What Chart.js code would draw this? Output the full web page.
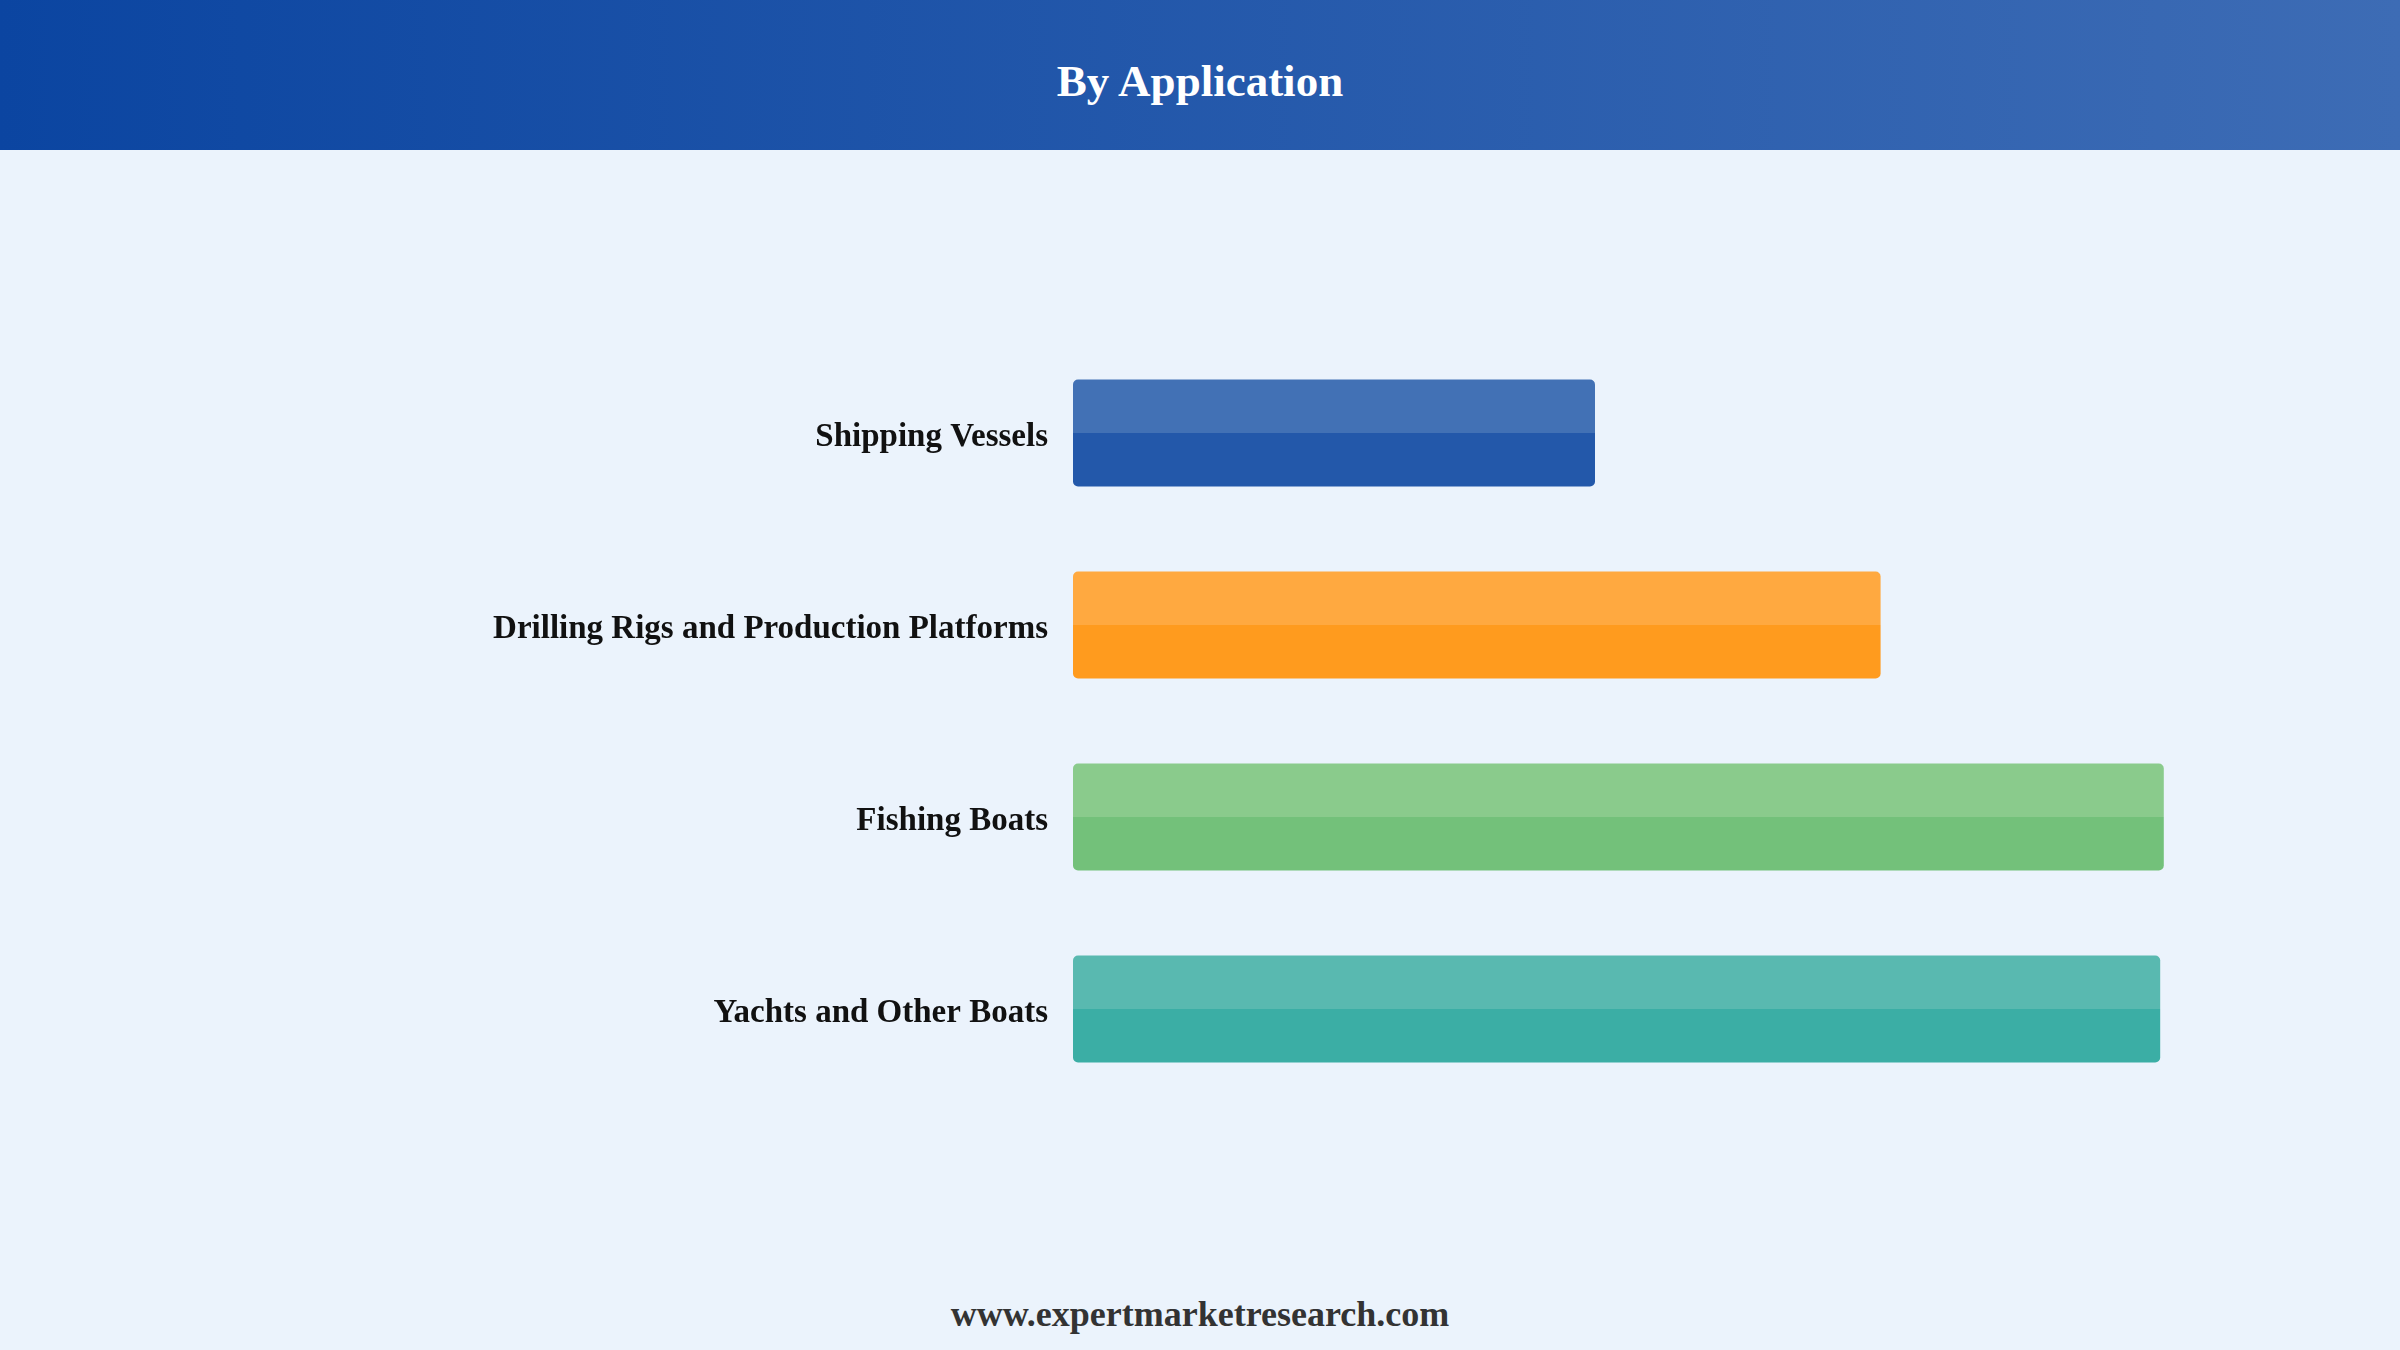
<!DOCTYPE html>
<html>
<head>
<meta charset="utf-8">
<script src="https://cdn.jsdelivr.net/npm/chart.js@4.4.1/dist/chart.umd.min.js"></script>
<style>
  html, body { margin: 0; padding: 0; }
  body { width: 2400px; height: 1350px; background: #ebf3fc; position: relative; overflow: hidden; font-family: 'Liberation Serif', 'Times New Roman', serif; }
  #header { position: absolute; left: 0; top: 0; width: 2400px; height: 150px; background: linear-gradient(to right, #0b45a1, #3d6cb5); color: #fff; font-weight: bold; font-size: 45px; text-align: center; line-height: 162px; }
  #wrap { position: absolute; left: 0; top: 150px; width: 2400px; height: 1100px; }
  #footer { position: absolute; left: 0; width: 2400px; top: 1293px; text-align: center; font-weight: bold; font-size: 36px; color: #333; }
</style>
</head>
<body>
<div id="header">By Application</div>
<div id="wrap"><canvas id="chart"></canvas></div>
<div id="footer">www.expertmarketresearch.com</div>
<script>
const categories = ['Shipping Vessels', 'Drilling Rigs and Production Platforms', 'Fishing Boats', 'Yachts and Other Boats'];
const values = [43.5, 67.3, 90.9, 90.6];
const darkColors = ['#2358aa', '#ff9b1e', '#73c17a', '#3baea5'];
const lightColors = ['#4271b5', '#ffa940', '#8acb8c', '#59b9b0'];
const BAR_PCT = 0.557;

// top half lighter, bottom half darker
function twoTone(ctx) {
    const i = ctx.dataIndex;
    const chart = ctx.chart;
    const y = chart.scales.y;
    const area = chart.chartArea;
    if (!y || !area) return darkColors[i];
    const h = (area.bottom - area.top) / categories.length * BAR_PCT;
    const mid = y.getPixelForValue(i);
    const g = chart.ctx.createLinearGradient(0, mid - h / 2, 0, mid + h / 2);
    g.addColorStop(0, lightColors[i]);
    g.addColorStop(0.5, lightColors[i]);
    g.addColorStop(0.5, darkColors[i]);
    g.addColorStop(1, darkColors[i]);
    return g;
}

document.addEventListener('DOMContentLoaded', () => {
    new Chart(document.getElementById('chart'), {
        type: 'bar',
        data: {
            labels: categories,
            datasets: [{
                data: values,
                backgroundColor: twoTone,
                borderRadius: 5,
                borderSkipped: false,
                barPercentage: BAR_PCT,
                categoryPercentage: 1.0
            }]
        },
        options: {
            indexAxis: 'y',
            responsive: true,
            maintainAspectRatio: false,
            animation: false,
            layout: { padding: { top: 187, bottom: 145, left: 0, right: 127 } },
            plugins: { legend: { display: false }, tooltip: { enabled: false } },
            scales: {
                x: { display: false, min: 0, max: 100 },
                y: {
                    grid: { display: false, drawTicks: false },
                    border: { display: false },
                    afterFit: (scale) => { scale.width = 1073; },
                    ticks: {
                        padding: 25,
                        labelOffset: 4,
                        color: '#111',
                        font: { family: 'Liberation Serif', weight: 'bold', size: 33 }
                    }
                }
            }
        }
    });
});
</script>
</body>
</html>
